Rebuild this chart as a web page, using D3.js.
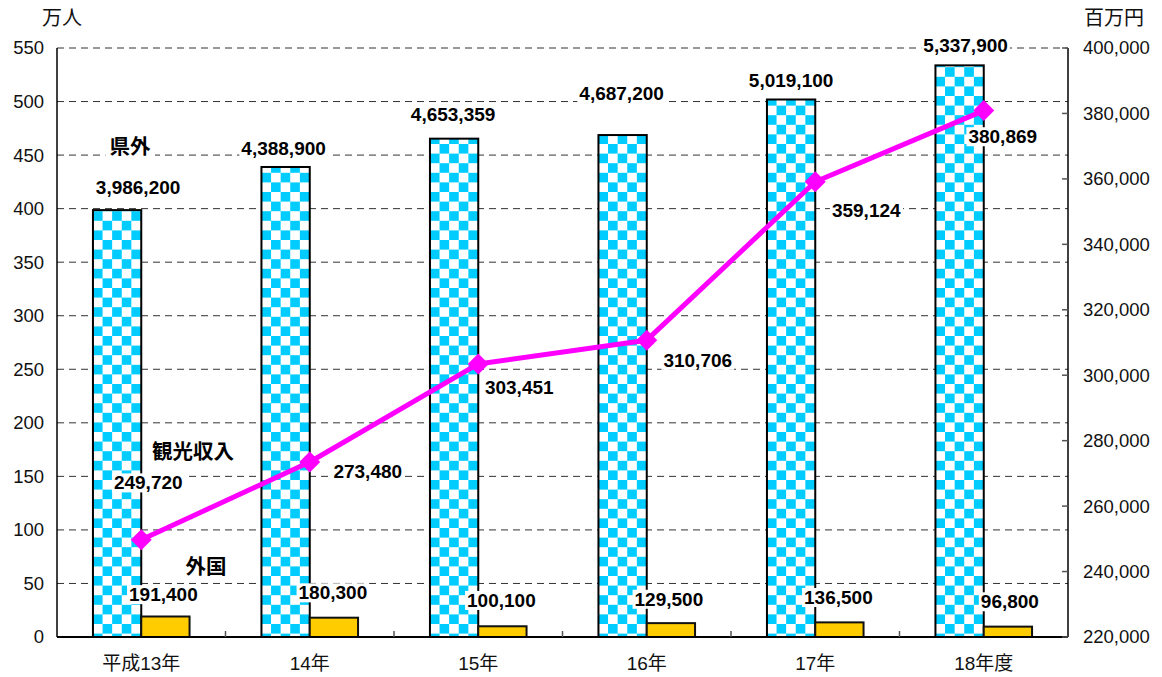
<!DOCTYPE html>
<html>
<head>
<meta charset="utf-8">
<script src="https://cdn.jsdelivr.net/npm/d3@7"></script>
<style>
  html, body { margin: 0; padding: 0; background: #fff; }
  svg { display: block; }
  text { font-family: "Liberation Sans", Arial, "Noto Sans CJK JP", sans-serif; }
</style>
</head>
<body>
<svg id="chart" width="1162" height="677"></svg>
<script>
// ---- data ----
const categories = ["平成13年", "14年", "15年", "16年", "17年", "18年度"];
const outsideVisitors = [3986200, 4388900, 4653359, 4687200, 5019100, 5337900]; // 県外 (人)
const foreignVisitors = [191400, 180300, 100100, 129500, 136500, 96800];        // 外国 (人)
const tourismIncome = [249720, 273480, 303451, 310706, 359124, 380869];          // 観光収入 (百万円)
const leftTicks = [0, 50, 100, 150, 200, 250, 300, 350, 400, 450, 500, 550];
const rightTicks = [220000, 240000, 260000, 280000, 300000, 320000, 340000, 360000, 380000, 400000];
const leftUnit = "万人";
const rightUnit = "百万円";
const seriesNames = { outside: "県外", income: "観光収入", foreign: "外国" };

// label nudges (pixels, relative to mark)
const outsideLabelNudge = [[21, -23], [-2, -19], [-1, -24], [-1, -42], [0, -19], [6, -20]];
const foreignLabelNudge = [[-2, -22], [-1, -25], [-1, -26], [-2, -24], [-1, -25], [2, -25]];
const incomeLabelNudge = [[7, -57], [58, 9], [41, 23], [51, 20], [51, 29], [19, 26]];

// ---- layout ----
const svg = d3.select("#chart");
const L = 57, R = 1068, T = 48, B = 637;
const fmt = d3.format(",");

const x = d3.scaleBand().domain(categories).range([L, R]).padding(0);
const yL = d3.scaleLinear().domain([0, 550]).range([B, T]);
const yR = d3.scaleLinear().domain([220000, 400000]).range([B, T]);
const bw = 48.3;

// patterns (one per bar, aligned to bar left edge)
const defs = svg.append("defs");
const sq = 9.6;
categories.forEach((c, i) => {
  const p = defs.append("pattern")
    .attr("id", "chk" + i)
    .attr("patternUnits", "userSpaceOnUse")
    .attr("x", x(c) + x.bandwidth() / 2 - bw)
    .attr("y", 0)
    .attr("width", sq * 2).attr("height", sq * 2);
  p.append("rect").attr("width", sq * 2).attr("height", sq * 2).attr("fill", "#fff");
  p.append("rect").attr("width", sq).attr("height", sq).attr("fill", "#00CCFF");
  p.append("rect").attr("x", sq).attr("y", sq).attr("width", sq).attr("height", sq).attr("fill", "#00CCFF");
});

// grid
svg.append("g").selectAll("line").data(leftTicks.filter(d => d > 0)).join("line")
  .attr("x1", L).attr("x2", R)
  .attr("y1", d => yL(d)).attr("y2", d => yL(d))
  .attr("stroke", "#333").attr("stroke-width", 1).attr("stroke-dasharray", "7,5");

// bars: outside
svg.append("g").selectAll("rect").data(outsideVisitors).join("rect")
  .attr("x", (d, i) => x(categories[i]) + x.bandwidth() / 2 - bw)
  .attr("y", d => yL(d / 10000))
  .attr("width", bw)
  .attr("height", d => B - yL(d / 10000))
  .attr("fill", (d, i) => "url(#chk" + i + ")")
  .attr("stroke", "#000").attr("stroke-width", 2);

// bars: foreign
svg.append("g").selectAll("rect").data(foreignVisitors).join("rect")
  .attr("x", (d, i) => x(categories[i]) + x.bandwidth() / 2)
  .attr("y", d => yL(d / 10000))
  .attr("width", bw)
  .attr("height", d => B - yL(d / 10000))
  .attr("fill", "#FFCC00")
  .attr("stroke", "#111").attr("stroke-width", 2);

// axes lines
const axisG = svg.append("g");
axisG.append("line").attr("x1", L).attr("x2", L).attr("y1", T).attr("y2", B).attr("stroke", "#000").attr("stroke-width", 1.5);
axisG.append("line").attr("x1", R).attr("x2", R).attr("y1", T).attr("y2", B).attr("stroke", "#000").attr("stroke-width", 1.5);
axisG.append("line").attr("x1", L).attr("x2", R).attr("y1", B).attr("y2", B).attr("stroke", "#000").attr("stroke-width", 2);

// right axis ticks (inward)
axisG.selectAll(".rt").data(rightTicks).join("line")
  .attr("x1", R - 6).attr("x2", R)
  .attr("y1", d => yR(d)).attr("y2", d => yR(d))
  .attr("stroke", "#555").attr("stroke-width", 1.5);
// bottom ticks at category boundaries (inward)
axisG.selectAll(".bt").data(categories.slice(1)).join("line")
  .attr("x1", d => x(d)).attr("x2", d => x(d))
  .attr("y1", B - 6).attr("y2", B)
  .attr("stroke", "#555").attr("stroke-width", 1.5);

// tick labels
svg.append("g").selectAll("text").data(leftTicks).join("text")
  .attr("x", 44).attr("y", d => yL(d)).attr("dy", "0.35em")
  .attr("text-anchor", "end").attr("font-size", 18.5).attr("fill", "#111")
  .text(d => d);
svg.append("g").selectAll("text").data(rightTicks).join("text")
  .attr("x", 1083).attr("y", d => yR(d)).attr("dy", "0.35em")
  .attr("text-anchor", "start").attr("font-size", 18.5).attr("fill", "#111")
  .text(d => fmt(d));
svg.append("g").selectAll("text").data(categories).join("text")
  .attr("x", d => x(d) + x.bandwidth() / 2).attr("y", 663).attr("dy", "0.35em")
  .attr("text-anchor", "middle").attr("font-size", 19).attr("fill", "#111")
  .text(d => d);

// unit titles
svg.append("text").attr("x", 62).attr("y", 18).attr("dy", "0.35em").attr("text-anchor", "middle")
  .attr("font-size", 20).attr("fill", "#111").style("font-family", "'Noto Sans CJK JP', sans-serif").text(leftUnit);
svg.append("text").attr("x", 1114).attr("y", 18).attr("dy", "0.35em").attr("text-anchor", "middle")
  .attr("font-size", 20).attr("fill", "#111").style("font-family", "'Noto Sans CJK JP', sans-serif").text(rightUnit);

// income line
const line = d3.line().x((d, i) => x(categories[i]) + x.bandwidth() / 2).y(d => yR(d));
svg.append("path").datum(tourismIncome).attr("d", line)
  .attr("fill", "none").attr("stroke", "#FF00FF").attr("stroke-width", 5).attr("stroke-linejoin", "round");
const dsz = 10.5;
svg.append("g").selectAll("path").data(tourismIncome).join("path")
  .attr("d", `M0,${-dsz}L${dsz},0L0,${dsz}L${-dsz},0Z`)
  .attr("transform", (d, i) => `translate(${x(categories[i]) + x.bandwidth() / 2},${yR(d)})`)
  .attr("fill", "#FF00FF");

// labels with white background
const labelLayer = svg.append("g");
function boxedLabel(cx, cy, txt, opts = {}) {
  const g = labelLayer.append("g");
  const rect = g.append("rect").attr("fill", "#fff");
  const t = g.append("text")
    .attr("x", cx).attr("y", cy).attr("dy", "0.35em")
    .attr("text-anchor", "middle")
    .attr("font-size", opts.size || 19)
    .attr("font-weight", "bold")
    .attr("fill", "#000")
    .text(txt);
  if (opts.cjk) t.style("font-family", "'Noto Sans CJK JP', sans-serif");
  const bb = t.node().getBBox();
  const p = opts.pad == null ? 2 : opts.pad;
  rect.attr("x", bb.x - p).attr("y", bb.y + 1).attr("width", bb.width + 2 * p).attr("height", bb.height - 2);
}

outsideVisitors.forEach((d, i) => {
  const cx = x(categories[i]) + x.bandwidth() / 2 - bw / 2;
  boxedLabel(cx + outsideLabelNudge[i][0], yL(d / 10000) + outsideLabelNudge[i][1], fmt(d));
});
foreignVisitors.forEach((d, i) => {
  const cx = x(categories[i]) + x.bandwidth() / 2 + bw / 2;
  boxedLabel(cx + foreignLabelNudge[i][0], yL(d / 10000) + foreignLabelNudge[i][1], fmt(d));
});
tourismIncome.forEach((d, i) => {
  const cx = x(categories[i]) + x.bandwidth() / 2;
  boxedLabel(cx + incomeLabelNudge[i][0], yR(d) + incomeLabelNudge[i][1], fmt(d));
});

// series name annotations
boxedLabel(130, 147, seriesNames.outside, { cjk: true, size: 20.5, pad: 4 });
boxedLabel(193, 452, seriesNames.income, { cjk: true, size: 20.5, pad: 4 });
boxedLabel(206, 567, seriesNames.foreign, { cjk: true, size: 20.5, pad: 4 });
</script>
</body>
</html>
